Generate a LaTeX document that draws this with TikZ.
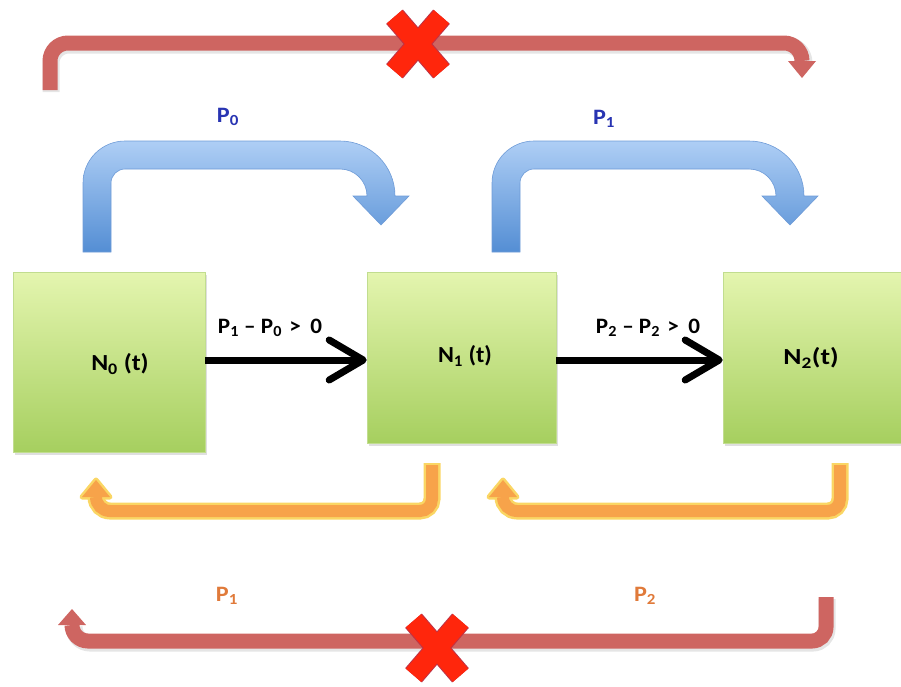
\documentclass[tikz,border=0pt]{standalone}
\usepackage{fontspec}
\usepackage{graphicx}
\setmainfont{Carlito}
\usetikzlibrary{arrows.meta,shadows,calc}

\definecolor{boxtop}{RGB}{228,245,175}
\definecolor{boxbot}{RGB}{166,207,95}
\definecolor{bluetop}{RGB}{174,206,245}
\definecolor{bluebot}{RGB}{84,142,212}
\definecolor{blueedge}{RGB}{110,155,215}
\definecolor{bandred}{RGB}{206,101,97}
\definecolor{crossred}{RGB}{255,38,12}
\definecolor{crossedge}{RGB}{190,50,70}
\definecolor{bandorange}{RGB}{247,163,74}
\definecolor{glow}{RGB}{250,214,100}
\definecolor{labelblue}{RGB}{40,52,178}
\definecolor{labelorange}{RGB}{224,122,58}

% slightly widened bold lettering
\newcommand{\widetext}[2][1.1]{\scalebox{#1}[1]{#2}}

\begin{document}
\begin{tikzpicture}[x=1pt,y=-1pt,
  statebox/.style={rectangle, inner sep=0pt, top color=boxtop, bottom color=boxbot,
    draw=boxbot!70!white, line width=0.6pt,
    drop shadow={shadow xshift=1.5pt, shadow yshift=-2.5pt, opacity=0.25}},
  statetext/.style={font=\bfseries\fontsize{23}{27}\selectfont, text=black},
  flowtext/.style={font=\bfseries\fontsize{22}{26}\selectfont, text=black},
  pbluetext/.style={font=\bfseries\fontsize{22}{26}\selectfont, text=labelblue},
  porangetext/.style={font=\bfseries\fontsize{22}{26}\selectfont, text=labelorange},
  flow/.style={line width=7pt, -{Straight Barb[length=34pt,width=40pt,round]}},
  bluebend/.style={top color=bluetop, bottom color=bluebot, draw=blueedge, line width=0.6pt},
  redband/.style={draw=bandred, line width=15pt},
  redhead/.style={fill=bandred},
  redshade/.style={draw=black, opacity=0.10, line width=17pt},
  glowband/.style={draw=glow, line width=17pt},
  orangeband/.style={draw=bandorange, line width=12pt},
  glowhead/.style={fill=glow, draw=glow, line width=5pt, line join=round},
  orangehead/.style={fill=bandorange},
  crossout/.style={draw=crossedge, line width=22pt},
  crossin/.style={draw=crossred, line width=20pt}
]
\useasboundingbox (0,0) rectangle (901,686);

% ---- state boxes ----
\node[statebox, minimum width=192pt, minimum height=180pt] (N0) at (109,362) {};
\node[statebox, minimum width=189pt, minimum height=171pt] (N1) at (461.5,357.5) {};
\node[statebox, minimum width=180pt, minimum height=171pt] (N2) at (813,357.5) {};

\node[statetext] (tN0) at (120,364) {\widetext[1.12]{N\textsubscript{0} (t)}};
\node[statetext] (tN1) at (465,356) {\widetext[1.05]{N\textsubscript{1} (t)}};
\node[statetext] (tN2) at (811,358) {\widetext[1.2]{N\textsubscript{2}(t)}};

% ---- forward flows between neighbouring boxes ----
\coordinate (fy) at (0,360);
\draw[flow] (N0.east |- fy) -- (N1.west |- fy);
\draw[flow] (N1.east |- fy) -- (N2.west |- fy);
\node[flowtext] (f01) at (270,328)
  {\widetext[1.05]{P\textsubscript{1}\hspace{5pt}–\hspace{5pt}P\textsubscript{0}\hspace{7pt}>\hspace{9pt}0}};
\node[flowtext] (f12) at (648,328)
  {\widetext[1.05]{P\textsubscript{2}\hspace{5pt}–\hspace{5pt}P\textsubscript{2}\hspace{7pt}>\hspace{9pt}0}};

% ---- blue bent arrows over the boxes ----
\foreach \dx in {0, 409}{
  \begin{scope}[xshift=\dx pt]
    \shadedraw[bluebend] (83,252) -- (83,183)
      arc[start angle=180, end angle=270, radius=42] -- (340,141)
      arc[start angle=270, end angle=360, radius=55] -- (409,196)
      -- (381,225) -- (353,196) -- (367,196)
      arc[start angle=0, end angle=-90, radius=27] -- (125,169)
      arc[start angle=270, end angle=180, radius=14] -- (111,252) -- cycle;
  \end{scope}
}
\node[pbluetext] (pb0) at (228,117) {\widetext{P\textsubscript{0}}};
\node[pbluetext] (pb1) at (604,119) {\widetext{P\textsubscript{1}}};

% ---- orange return arrows under the boxes ----
\foreach \rx/\lx in {432/96, 840/503}{
  \draw[glowband] (\rx,463) -- (\rx,499)
    arc[start angle=0, end angle=90, radius=12] -- (\lx+14,511)
    arc[start angle=90, end angle=180, radius=14];
  \filldraw[glowhead] (\lx-14,497) -- (\lx+14,497) -- (\lx,480) -- cycle;
  \draw[orangeband] (\rx,465) -- (\rx,499)
    arc[start angle=0, end angle=90, radius=12] -- (\lx+14,511)
    arc[start angle=90, end angle=180, radius=14];
  \fill[orangehead] (\lx-14,497) -- (\lx+14,497) -- (\lx,480) -- cycle;
}
\node[porangetext] (po1) at (227,596) {\widetext{P\textsubscript{1}}};
\node[porangetext] (po2) at (645,596) {\widetext{P\textsubscript{2}}};

% ---- long red arrows (crossed out) ----
\draw[redshade] (51,92) -- (51,63)
  arc[start angle=180, end angle=270, radius=18] -- (786,45)
  arc[start angle=270, end angle=360, radius=18];
\draw[redband] (50,90) -- (50,61)
  arc[start angle=180, end angle=270, radius=18] -- (784,43)
  arc[start angle=270, end angle=360, radius=18];
\fill[redhead] (788,61) -- (816,61) -- (802,78) -- cycle;

\draw[redshade] (827,599) -- (827,629)
  arc[start angle=0, end angle=90, radius=14] -- (90,643)
  arc[start angle=90, end angle=180, radius=16];
\draw[redband] (826,597) -- (826,627)
  arc[start angle=0, end angle=90, radius=14] -- (88,641)
  arc[start angle=90, end angle=180, radius=16];
\fill[redhead] (58,625) -- (86,625) -- (72,609) -- cycle;

% ---- crosses ----
\coordinate (xTop) at (418,44);
\coordinate (xBot) at (437,648);
\foreach \c in {xTop, xBot}{
  \draw[crossout] ($(\c)+(-23.5,-27.3)$) -- ($(\c)+(23.5,27.3)$);
  \draw[crossout] ($(\c)+(23.5,-27.3)$) -- ($(\c)+(-23.5,27.3)$);
  \draw[crossin] ($(\c)+(-23.5,-27.3)$) -- ($(\c)+(23.5,27.3)$);
  \draw[crossin] ($(\c)+(23.5,-27.3)$) -- ($(\c)+(-23.5,27.3)$);
}
\end{tikzpicture}
\end{document}
